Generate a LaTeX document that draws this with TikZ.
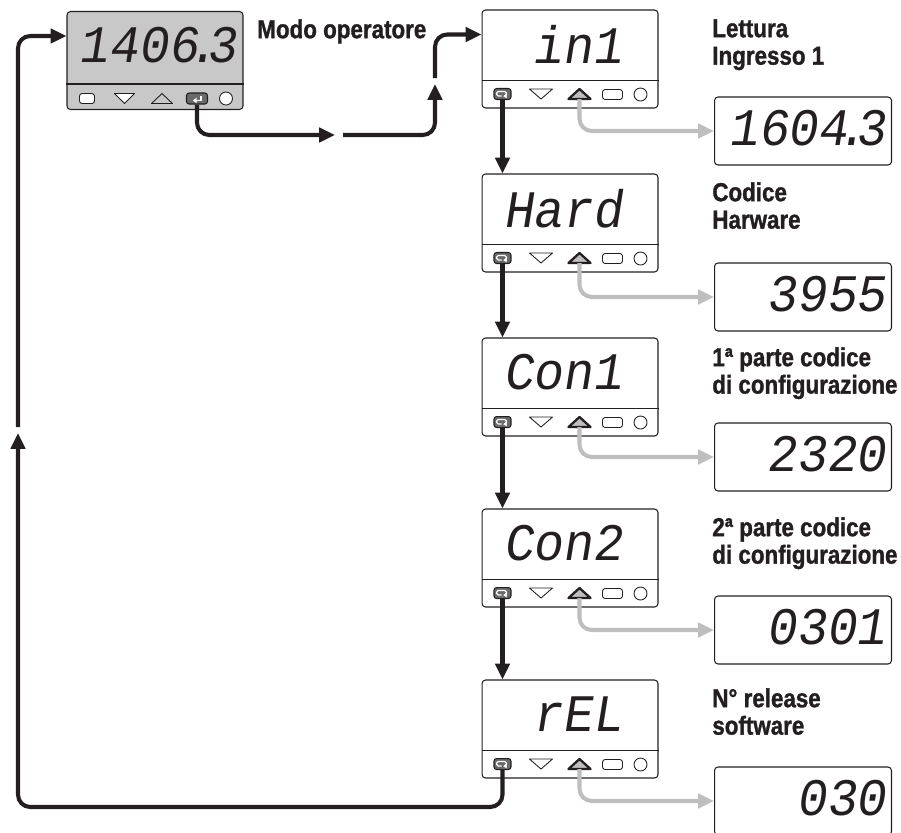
\documentclass[tikz,border=0pt]{standalone}
\usepackage{fontspec}
\newfontfamily\lblfont{Liberation Sans}[FakeStretch=0.86, BoldFeatures={FakeBold=1.2}]
\newfontfamily\segfont{Liberation Mono}[FakeSlant=0.16,FakeStretch=0.94]
\usetikzlibrary{arrows.meta, positioning, calc}
\definecolor{ink}{HTML}{231F20}
\definecolor{panelgray}{HTML}{C8C8C8}
\definecolor{keygray}{HTML}{6A6A6A}
\definecolor{peekgray}{HTML}{BEBEBE}
\newcommand{\segdp}{\kern-.2em.\kern-.2em}

\begin{document}
\begin{tikzpicture}[x=0.02cm, y=-0.02cm,
    device/.style={draw=ink, line width=0.6pt, rounded corners=2pt, fill=white, minimum width=3.52cm, minimum height=1.96cm, inner sep=0pt},
    readout/.style={draw=ink, line width=0.6pt, rounded corners=2pt, fill=white, minimum width=3.54cm, minimum height=1.36cm, inner sep=0pt},
    segtext/.style={font=\segfont\fontsize{30}{30}\selectfont, text=ink, inner sep=0pt, anchor=east},
    caption/.style={font=\lblfont\bfseries\fontsize{14.8}{15.6}\selectfont, text=ink, align=left, anchor=north west, inner sep=0pt},
    flow/.style={-{Triangle[length=9pt,width=8pt]}, line width=2.3pt, draw=ink, rounded corners=7pt},
    peek/.style={-{Triangle[length=9pt,width=8pt]}, line width=2.3pt, draw=peekgray, rounded corners=7pt},
    enterkey/.style={draw=ink, fill=keygray, line width=0.6pt, rounded corners=1.5pt, minimum width=0.34cm, minimum height=0.22cm, inner sep=0pt},
    setkey/.style={draw=ink, fill=white, line width=0.5pt, rounded corners=1.5pt, minimum width=0.4cm, minimum height=0.2cm, inner sep=0pt},
    ledkey/.style={draw=ink, fill=white, line width=0.5pt, circle, minimum size=0.26cm, inner sep=0pt},
    arrowkey/.style={draw=ink, line width=0.5pt, line join=round, fill=white},
    upkey/.style={draw=ink, line width=1.3pt, line join=round, fill=peekgray}
]
\useasboundingbox (0,0) rectangle (901,832);

% Operator mode
\node[device, fill=panelgray] (op) at (155,60.5) {};
\node[segtext] (op-txt) at ($(op.east)+(-7,-15)$) {1406\segdp3};
\node[caption] (op-lbl) at (257,19) {Modo operatore};
\draw[ink, line width=0.6pt] ($(op.south west)+(0,-26)$) -- ($(op.south east)+(0,-26)$);
\node[setkey, minimum width=0.3cm] (op-set) at ($(op.south west)+(20.5,-11.5)$) {};
\draw[arrowkey] ($(op.south west)+(48,-16.5)$) -- ++(20,0) -- ++(-10,10) -- cycle;
\draw[arrowkey, fill=panelgray] ($(op.south west)+(85,-6.5)$) -- ++(21,0) -- ++(-10.5,-10) -- cycle;
\node[enterkey, minimum width=0.42cm, minimum height=0.22cm] (op-ent) at ($(op.south west)+(130.5,-11.5)$) {};
\draw[white, line width=0.7pt, -{Triangle[length=2pt,width=3pt]}] ($(op-ent)+(4,-3)$) -- ++(0,5) -- ++(-8,0);
\node[ledkey] (op-led) at ($(op.south west)+(159.5,-11.5)$) {};

% Parameter pages
\node[device] (in1) at (570,59) {};
\node[device] (hard) at (570,223) {};
\node[device] (con1) at (570,387) {};
\node[device] (con2) at (570,558) {};
\node[device] (rel) at (570,729) {};

\node[segtext] (in1-txt) at ($(in1.east)+(-36,-14.5)$) {in1};
\node[segtext] (hard-txt) at ($(hard.east)+(-36,-14.5)$) {Hard};
\node[segtext] (con1-txt) at ($(con1.east)+(-36,-14.5)$) {Con1};
\node[segtext] (con2-txt) at ($(con2.east)+(-36,-14.5)$) {Con2};
\node[segtext] (rel-txt) at ($(rel.east)+(-36,-14.5)$) {rEL};

\foreach \dev in {in1,hard,con1,con2,rel} {
  \draw[ink, line width=0.6pt] ($(\dev.south west)+(0,-28)$) -- ($(\dev.south east)+(0,-28)$);
  \node[enterkey] (\dev-ent) at ($(\dev.south west)+(21,-14.5)$) {};
  \draw[white, line width=0.7pt, rounded corners=1pt, -{Triangle[length=1.8pt,width=2.6pt]}] ($(\dev-ent)+(-1,2)$) -- ++(-5,0) -- ++(0,-4.5) -- ++(10,0) -- ++(0,4.5) -- ++(-3,0);
  \draw[arrowkey] ($(\dev.south west)+(48,-19.5)$) -- ++(23,0) -- ++(-11.5,10) -- cycle;
  \coordinate (\dev-up) at ($(\dev.south west)+(98,-9.5)$);
  \draw[upkey] ($(\dev-up)+(-11,0)$) -- ++(22,0) -- ++(-11,-10) -- cycle;
  \node[setkey] (\dev-set) at ($(\dev.south west)+(131,-14)$) {};
  \node[ledkey] (\dev-led) at ($(\dev.south west)+(159,-14)$) {};
}

% Values
\node[readout] (in1-val) at (803,131) {};
\node[readout] (hard-val) at (803,297) {};
\node[readout] (con1-val) at (803,457) {};
\node[readout] (con2-val) at (803,630) {};
\node[readout] (rel-val) at (803,801) {};
\node[segtext] (in1-num) at ($(in1-val.east)+(-6,-3)$) {1604\segdp3};
\node[segtext] (hard-num) at ($(hard-val.east)+(-6,-3)$) {3955};
\node[segtext] (con1-num) at ($(con1-val.east)+(-6,-3)$) {2320};
\node[segtext] (con2-num) at ($(con2-val.east)+(-6,-3)$) {0301};
\node[segtext] (rel-num) at ($(rel-val.east)+(-6,-3)$) {030};

% Captions
\node[caption] (in1-lbl) at (712,19) {Lettura\\Ingresso 1};
\node[caption] (hard-lbl) at (712,182) {Codice\\Harware};
\node[caption] (con1-lbl) at (712,347) {1ª parte codice\\di configurazione};
\node[caption] (con2-lbl) at (712,517) {2ª parte codice\\di configurazione};
\node[caption] (rel-lbl) at (712,688) {N° release\\software};

% Entry into the parameter pages
\coordinate (hopA) at (335,135);
\coordinate (hopB) at (343,135);
\coordinate (hopC) at (435,84);
\coordinate (hopD) at (435,78);
\coordinate (in1-in) at ($(in1.north west)+(0,25)$);
\draw[flow] (op-ent.south) |- (hopA);
\draw[flow] (hopB) -| (hopC);
\draw[flow] (hopD) |- (in1-in);

% Scrolling
\draw[flow] (in1-ent.south) -- (in1-ent.south |- hard.north);
\draw[flow] (hard-ent.south) -- (hard-ent.south |- con1.north);
\draw[flow] (con1-ent.south) -- (con1-ent.south |- con2.north);
\draw[flow] (con2-ent.south) -- (con2-ent.south |- rel.north);
\foreach \dev in {in1,hard,con1,con2,rel} \draw[peek] (\dev-up) |- (\dev-val.west);

% Back to operator mode
\coordinate (back-corner) at (18,807);
\coordinate (back-tip) at (18,433);
\coordinate (back-from) at (18,427);
\coordinate (op-in) at ($(op.north west)+(0,25)$);
\draw[flow] (rel-ent.south) |- (back-corner) -- (back-tip);
\draw[flow] (back-from) |- (op-in);
\end{tikzpicture}
\end{document}
